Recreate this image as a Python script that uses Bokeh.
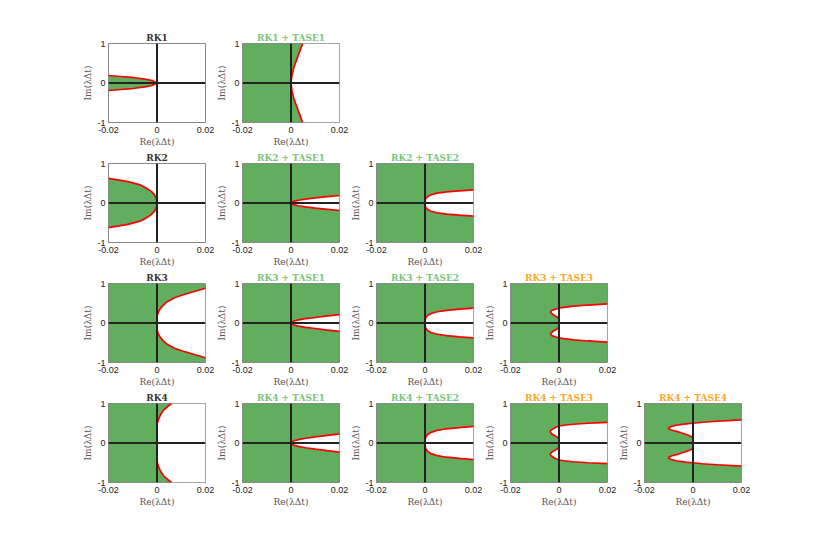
from bokeh.plotting import figure
from bokeh.layouts import gridplot, column, row
from bokeh.models import Spacer, Span, FixedTicker, Range1d
from bokeh.embed import file_html
from bokeh.resources import INLINE

# ---- axis ticks ----
x_ticks = [-0.02, 0, 0.02]
x_tick_labels = ["-0.02", "0", "0.02"]
y_ticks = [-1, 0, 1]
y_tick_labels = ["-1", "0", "1"]

# ---- upper half of each stability boundary (Re, Im) ----
rk1_x = [0, -0.002, -0.005, -0.01, -0.015, -0.02]
rk1_y = [0, 0.063, 0.10, 0.14, 0.165, 0.19]

rk2_x = [0, -0.0003, -0.0012, -0.0025, -0.0045, -0.007, -0.012, -0.02]
rk2_y = [0, 0.12, 0.22, 0.30, 0.38, 0.46, 0.54, 0.625]

rk3_x = [0, 0, 0.0004, 0.0011, 0.0024, 0.0042, 0.0072, 0.0105, 0.015, 0.02]
rk3_y = [0, 0.15, 0.26, 0.34, 0.44, 0.54, 0.64, 0.71, 0.79, 0.88]

rk4_x = [0, 0, 0.0002, 0.0006, 0.0015, 0.0027, 0.0045, 0.006]
rk4_y = [0, 0.45, 0.52, 0.60, 0.72, 0.83, 0.93, 1.0]

rk1_t1_x = [0, 0.0004, 0.0012, 0.0024, 0.0036, 0.0048]
rk1_t1_y = [0, 0.2, 0.4, 0.6, 0.8, 1.0]

rk2_t1_x = [0, 0.001, 0.003, 0.006, 0.01, 0.015, 0.02]
rk2_t1_y = [0, 0.04, 0.07, 0.10, 0.13, 0.16, 0.19]

rk3_t1_x = [0, 0.001, 0.003, 0.006, 0.01, 0.015, 0.02]
rk3_t1_y = [0, 0.045, 0.08, 0.11, 0.14, 0.18, 0.21]

rk4_t1_x = [0, 0.001, 0.003, 0.006, 0.01, 0.015, 0.02]
rk4_t1_y = [0, 0.05, 0.085, 0.12, 0.155, 0.195, 0.23]

rk2_t2_x = [0, 0.0002, 0.001, 0.0025, 0.005, 0.009, 0.014, 0.02]
rk2_t2_y = [0, 0.10, 0.16, 0.21, 0.25, 0.28, 0.305, 0.33]

rk3_t2_x = [0, 0.0002, 0.001, 0.0025, 0.005, 0.009, 0.014, 0.02]
rk3_t2_y = [0, 0.12, 0.19, 0.24, 0.285, 0.32, 0.35, 0.375]

rk4_t2_x = [0, 0.0002, 0.001, 0.0025, 0.005, 0.009, 0.014, 0.02]
rk4_t2_y = [0, 0.13, 0.21, 0.27, 0.32, 0.36, 0.39, 0.42]

rk3_t3_x = [0, 0, -0.0008, -0.0025, -0.0035, -0.003, -0.0012, 0, 0.002, 0.006, 0.012, 0.02]
rk3_t3_y = [0, 0.10, 0.15, 0.21, 0.27, 0.32, 0.355, 0.375, 0.395, 0.425, 0.455, 0.485]

rk4_t3_x = [0, 0, -0.001, -0.0028, -0.0037, -0.0032, -0.0015, 0, 0.002, 0.006, 0.012, 0.02]
rk4_t3_y = [0, 0.11, 0.16, 0.22, 0.28, 0.33, 0.39, 0.43, 0.45, 0.475, 0.50, 0.52]

rk4_t4_x = [0, 0, -0.001, -0.003, -0.006, -0.009, -0.0102, -0.0095, -0.007, -0.003, 0, 0.004, 0.01, 0.02]
rk4_t4_y = [0, 0.13, 0.17, 0.22, 0.28, 0.33, 0.37, 0.41, 0.45, 0.485, 0.50, 0.525, 0.55, 0.585]

# (row, col, title, title colour, stable region inside curve?, x, y)
panels = [
    (0, 0, "RK1", "#333333", True, rk1_x, rk1_y),
    (0, 1, "RK1 + TASE1", "#7cc47a", False, rk1_t1_x, rk1_t1_y),
    (1, 0, "RK2", "#333333", True, rk2_x, rk2_y),
    (1, 1, "RK2 + TASE1", "#7cc47a", False, rk2_t1_x, rk2_t1_y),
    (1, 2, "RK2 + TASE2", "#7cc47a", False, rk2_t2_x, rk2_t2_y),
    (2, 0, "RK3", "#333333", False, rk3_x, rk3_y),
    (2, 1, "RK3 + TASE1", "#7cc47a", False, rk3_t1_x, rk3_t1_y),
    (2, 2, "RK3 + TASE2", "#7cc47a", False, rk3_t2_x, rk3_t2_y),
    (2, 3, "RK3 + TASE3", "#f5a82c", False, rk3_t3_x, rk3_t3_y),
    (3, 0, "RK4", "#333333", False, rk4_x, rk4_y),
    (3, 1, "RK4 + TASE1", "#7cc47a", False, rk4_t1_x, rk4_t1_y),
    (3, 2, "RK4 + TASE2", "#7cc47a", False, rk4_t2_x, rk4_t2_y),
    (3, 3, "RK4 + TASE3", "#f5a82c", False, rk4_t3_x, rk4_t3_y),
    (3, 4, "RK4 + TASE4", "#f5a82c", False, rk4_t4_x, rk4_t4_y),
]

GREEN = "#62ae5f"
XMIN, XMAX = -0.02, 0.02
YMIN, YMAX = -1, 1


def make_panel(title, tcolor, inside, xu, yu):
    p = figure(width=134, height=120, output_backend="svg", toolbar_location=None,
               x_range=Range1d(XMIN, XMAX), y_range=Range1d(YMIN, YMAX),
               min_border_left=28, min_border_right=9, min_border_top=14, min_border_bottom=26)
    p.title.text = title
    p.title.text_color = tcolor
    p.title.text_font = "DejaVu Serif"
    p.title.text_font_style = "bold"
    p.title.text_font_size = "9px"
    p.title.align = "center"
    p.title.standoff = 1
    p.title.offset = 0
    p.grid.visible = False
    p.outline_line_color = "#888888"
    p.outline_line_width = 1

    # curve: upper reversed then mirrored lower half
    cx = list(reversed(xu)) + list(xu[1:])
    cy = list(reversed(yu)) + [-v for v in yu[1:]]
    if inside:
        p.background_fill_color = "white"
        p.patch(cx, cy, fill_color=GREEN, line_color=None)
    else:
        p.background_fill_color = GREEN
        px = [XMAX] + cx + [XMAX]
        py = [yu[-1]] + cy + [-yu[-1]]
        p.patch(px, py, fill_color="white", line_color=None)
    p.line(cx, cy, line_color="red", line_width=1.7)

    p.add_layout(Span(location=0, dimension="height", line_color="#222222", line_width=2))
    p.add_layout(Span(location=0, dimension="width", line_color="#222222", line_width=2))

    for ax in (p.xaxis[0], p.yaxis[0]):
        ax.axis_line_color = None
        ax.major_tick_in = 0
        ax.major_tick_out = 0
        ax.minor_tick_line_color = None
        ax.major_label_text_font = "Liberation Sans"
        ax.major_label_text_font_size = "9px"
        ax.major_label_text_color = "#222222"
        ax.axis_label_text_font = "DejaVu Serif"
        ax.axis_label_text_font_style = "normal"
        ax.axis_label_text_font_size = "9px"
        ax.axis_label_text_color = "#555555"
    p.xaxis.major_label_standoff = 4
    p.xaxis.axis_label_standoff = 1
    p.yaxis.major_label_standoff = 3
    p.yaxis.axis_label_standoff = 1
    p.xaxis.ticker = FixedTicker(ticks=x_ticks)
    p.xaxis.major_label_overrides = dict(zip(x_ticks, x_tick_labels))
    p.yaxis.ticker = FixedTicker(ticks=y_ticks)
    p.yaxis.major_label_overrides = dict(zip(y_ticks, y_tick_labels))
    p.xaxis.axis_label = "Re(λΔt)"
    p.yaxis.axis_label = "Im(λΔt)"
    return p


grid_children = [[None] * 5 for _ in range(4)]
for (r, c, title, tcolor, inside, xu, yu) in panels:
    grid_children[r][c] = make_panel(title, tcolor, inside, xu, yu)

grid = gridplot(grid_children, toolbar_location=None)
layout = column(Spacer(height=29), row(Spacer(width=80), grid))

open("out.html", "w").write(file_html(layout, INLINE))
